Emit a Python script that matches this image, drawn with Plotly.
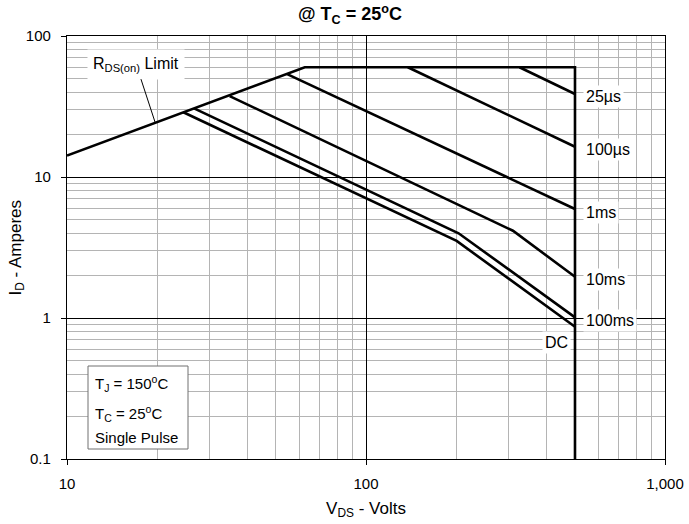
import plotly.graph_objects as go
import numpy as np

# ---- data (V_DS in volts, I_D in amperes) ----
boundary_v = [10, 62.4, 500, 500]
boundary_i = [14.2, 60, 60, 0.1]

curve_names = ["25µs", "100µs", "1ms", "10ms", "100ms", "DC"]
curve_v = [
    [326, 500],
    [138, 500],
    [54.5, 500],
    [35.0, 310, 500],
    [26.6, 204, 500],
    [24.5, 201, 500],
]
curve_i = [
    [60, 38.8],
    [60, 16.4],
    [53.7, 5.93],
    [37.5, 4.16, 1.96],
    [30.7, 3.99, 1.01],
    [28.8, 3.52, 0.867],
]

x_tickvals = [10, 100, 1000]
x_ticktext = ["10", "100", "1,000"]
y_tickvals = [0.1, 1, 10, 100]
y_ticktext = ["0.1", "1", "10", "100"]

FONT = "Liberation Sans, Arial, sans-serif"

fig = go.Figure()
fig.add_trace(go.Scatter(x=boundary_v, y=boundary_i, mode="lines",
                         line=dict(color="black", width=2.6), showlegend=False))
for v, i in zip(curve_v, curve_i):
    fig.add_trace(go.Scatter(x=v, y=i, mode="lines",
                             line=dict(color="black", width=2.6), showlegend=False))

def minor_vals(lo, hi):
    vals = []
    for d in range(lo, hi):
        for m in range(2, 10):
            vals.append(m * 10 ** d)
    return vals

ax_common = dict(type="log", showline=True, linecolor="black", linewidth=1.3,
                 mirror=True, ticks="outside", ticklen=5, tickcolor="black",
                 showgrid=True, gridcolor="black", gridwidth=1,
                 tickfont=dict(family=FONT, size=15, color="black"),
                 zeroline=False, automargin=False)

fig.update_xaxes(**ax_common, range=[1, 3], tickmode="array",
                 tickvals=x_tickvals, ticktext=x_ticktext, ticklabelstandoff=6,
                 minor=dict(tickmode="array", tickvals=minor_vals(1, 3),
                            showgrid=True, gridcolor="#b4b4b4", gridwidth=1, ticks=""),
                 title=dict(text="V<sub>DS</sub> - Volts",
                            font=dict(family=FONT, size=17, color="black"), standoff=10))
fig.update_yaxes(**ax_common, range=[-1, 2], tickmode="array",
                 tickvals=y_tickvals, ticktext=y_ticktext, ticklabelstandoff=7,
                 minor=dict(tickmode="array", tickvals=minor_vals(-1, 2),
                            showgrid=True, gridcolor="#b4b4b4", gridwidth=1, ticks=""))

PW, PH = 598, 423

# y axis title placed explicitly
fig.add_annotation(xref="paper", yref="paper", x=(16 - 67) / PW, y=0.5,
                   xanchor="center", yanchor="middle", textangle=-90, showarrow=False,
                   text="I<sub>D</sub> - Amperes",
                   font=dict(family=FONT, size=17, color="black"))

LABEL_FONT = dict(family=FONT, size=16, color="black")

# curve labels at the right of DC line
label_x = np.log10(530)
for name, i in zip(curve_names[:-1], curve_i[:-1]):
    fig.add_annotation(x=label_x, y=np.log10(i[-1]), text=name, showarrow=False,
                       xanchor="left", yshift=-3, bgcolor="white", borderpad=2,
                       font=LABEL_FONT)
fig.add_annotation(x=np.log10(483), y=np.log10(curve_i[-1][-1]), text=curve_names[-1],
                   showarrow=False, xanchor="right", yshift=-16, bgcolor="white",
                   borderpad=2, font=LABEL_FONT)

# R_DS(on) limit label with pointer
fig.add_annotation(x=np.log10(19.7), y=np.log10(24.5),
                   text="R<sub>DS(on)</sub> Limit", showarrow=True, arrowhead=0,
                   arrowwidth=1, arrowcolor="black", ax=-19, ay=-58, standoff=0,
                   bgcolor="white", borderpad=5, font=LABEL_FONT)

# conditions box (outline + three text lines)
fig.add_shape(type="rect", xref="paper", yref="paper",
              x0=21 / PW, x1=121 / PW, y0=(459 - 449) / PH, y1=(459 - 366) / PH,
              line=dict(color="#707070", width=1), fillcolor="white", layer="above")
box_lines = ["T<sub>J</sub> = 150<sup>o</sup>C", "T<sub>C</sub> = 25<sup>o</sup>C", "Single Pulse"]
box_line_y = [383, 413, 437]
for txt, yy in zip(box_lines, box_line_y):
    fig.add_annotation(xref="paper", yref="paper", x=26 / PW, y=(459 - yy) / PH,
                       xanchor="left", yanchor="middle", showarrow=False, text=txt,
                       font=dict(family=FONT, size=15, color="black"))

fig.update_layout(
    width=689, height=524,
    margin=dict(l=67, r=24, t=36, b=65),
    paper_bgcolor="white", plot_bgcolor="white",
    title=dict(text="<b>@ T<sub>C</sub> = 25<sup>o</sup>C</b>", x=0.508, xref="container",
               xanchor="center", y=1 - 14 / 524, yanchor="middle",
               font=dict(family=FONT, size=18, color="black")),
    showlegend=False,
)

fig.write_html("out.html")
